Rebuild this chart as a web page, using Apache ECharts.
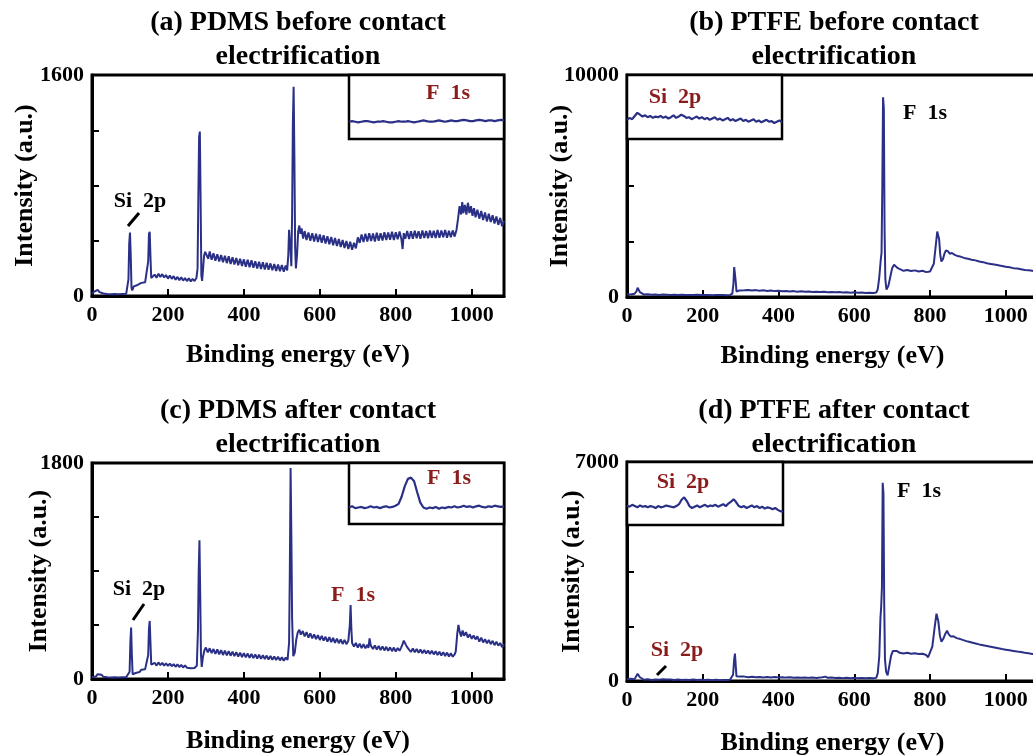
<!DOCTYPE html>
<html>
<head>
<meta charset="utf-8">
<title>XPS survey spectra</title>
<script src="https://cdn.jsdelivr.net/npm/echarts@6/dist/echarts.min.js"></script>
<style>
  html, body { margin: 0; padding: 0; background: #fff; }
  #chart { width: 1033px; height: 756px; }
</style>
</head>
<body>
<div id="chart"></div>
<script>
// ---- data (binding energy eV, intensity a.u.) ----
var energyTicks = [0, 200, 400, 600, 800, 1000];
var yMaxA = 1600, yMaxB = 10000, yMaxC = 1800, yMaxD = 7000;

var pdmsBefore = [
  [0,15],[5,30],[10,22],[15,45],[20,28],[25,40],[30,18],[35,25],[40,14],[45,22],[50,12],[55,20],[60,15],[65,22],[70,12],[75,18],[80,14],[85,20],[90,16],[94,22],
  [96,120],[98,380],[100,460],[102,300],[104,60],[106,40],[110,70],[115,58],[120,80],[125,72],[130,95],[135,85],[140,100],[145,108],
  [148,250],[150,450],[152,465],[154,280],[156,130],[160,120],[165,155],[170,132],[175,162],[180,138],[185,158],[190,134],[195,152],[200,126],[205,148],[210,124],[215,144],[220,118],[225,138],[230,115],[235,135],[240,112],[245,130],[250,108],[255,128],[260,106],[265,124],[270,108],[275,130],
  [278,200],[280,700],[282,1150],[284,1190],[286,700],[288,150],[290,110],[292,180],[295,290],[298,320],
  [302,318],[306,270],[310,322],[315,262],[320,310],[325,255],[330,302],[335,250],[340,296],[345,245],[350,292],[355,238],[360,288],[365,232],[370,280],[375,228],[380,275],[385,222],[390,270],[395,218],[400,265],[405,212],[410,262],[415,208],[420,258],[425,205],[430,252],[435,200],[440,248],[445,196],[450,244],[455,192],[460,240],[465,190],[470,236],[475,186],[480,232],[485,182],[490,228],[495,180],[500,224],[505,176],[510,220],[514,185],
  [517,300],[519,480],[521,490],[523,320],[525,215],[527,600],[529,1250],[531,1515],[533,1000],[535,350],[537,200],[540,300],[543,470],[546,510],
  [549,450],[552,490],[556,415],[560,470],[565,405],[570,460],[575,400],[580,455],[585,395],[590,450],[595,390],[600,445],[605,385],[610,440],[615,380],[620,432],[625,375],[630,428],[635,368],[640,420],[645,362],[650,412],[655,355],[660,405],[665,348],[670,398],[675,340],[680,392],[685,335],[690,385],[695,345],
  [700,425],[705,385],[710,445],[715,390],[720,450],[725,395],[730,455],[735,398],[740,452],[745,395],[750,458],[755,400],[760,455],[765,402],[770,462],[775,405],[780,460],[785,408],[790,465],[795,405],[800,462],[805,410],[810,468],[815,408],[818,340],[821,455],[825,415],[830,470],[835,412],[840,468],[845,415],[850,472],[855,418],[860,468],[865,415],[870,475],[875,420],[880,470],[885,418],[890,475],[895,422],[900,472],[905,420],[910,478],[915,422],[920,475],[925,425],[930,478],[935,422],[940,472],[945,425],[950,475],[955,430],[960,480],
  [964,560],[968,650],[972,590],[975,680],[978,600],[982,660],[986,590],[990,675],[994,600],[998,650],[1002,580],[1006,635],[1010,570],[1015,625],[1020,560],[1025,615],[1030,550],[1035,605],[1040,540],[1045,595],[1050,535],[1055,585],[1060,525],[1065,575],[1070,515],[1075,565],[1080,505],[1085,545]
];

var ptfeBefore = [
  [0,120],[5,140],[10,110],[15,130],[20,150],[25,250],[28,420],[31,400],[34,220],[38,140],[45,110],[55,120],[65,100],[75,115],[85,95],[95,110],[105,100],[115,90],[125,105],[135,95],[145,100],[155,85],[165,95],[175,90],[185,100],[195,85],[205,95],[215,90],[225,80],[235,95],[245,85],[255,90],[265,80],[272,95],
  [278,150],[281,600],[283,1350],[285,1380],[287,700],[289,250],[292,320],[296,290],[300,330],[310,300],[320,320],[330,290],[340,310],[350,280],[360,300],[370,275],[380,290],[390,265],[400,285],[410,260],[420,275],[430,250],[440,265],[450,240],[460,255],[470,235],[480,245],[490,225],[500,240],[510,220],[520,235],[530,215],[540,225],[550,210],[560,220],[570,200],[580,215],[590,195],[600,210],[610,190],[620,200],[630,185],[640,195],[650,180],[658,200],
  [662,350],[666,900],[670,1700],[672,2000],[674,5000],[676,9000],[678,8500],[680,3000],[682,800],[685,330],[690,500],[695,900],[700,1300],[705,1450],[710,1400],[715,1300],[720,1220],[730,1180],[740,1220],[750,1170],[760,1200],[770,1150],[780,1180],[790,1120],[800,1150],
  [805,1200],[810,1500],[815,2300],[819,2950],[821,3030],[824,2600],[827,1900],[830,1600],[834,1700],[838,1950],[842,2100],[845,2160],[848,2050],[852,1950],[858,1980],[865,1900],[872,1850],[880,1820],[890,1760],[900,1720],[910,1680],[920,1650],[930,1600],[940,1570],[950,1520],[960,1490],[970,1460],[980,1430],[990,1400],[1000,1360],[1010,1340],[1020,1300],[1030,1280],[1040,1250],[1050,1220],[1060,1200],[1070,1180],[1085,1150]
];

var pdmsAfter = [
  [0,15],[5,28],[10,20],[15,40],[20,30],[25,36],[30,18],[35,25],[40,14],[45,20],[50,12],[55,18],[60,14],[65,20],[70,12],[75,18],[80,14],[85,20],[90,15],[95,20],
  [99,60],[101,300],[103,428],[105,200],[107,40],[110,36],[115,50],[120,62],[125,58],[130,78],[135,70],[140,82],[145,78],
  [148,200],[150,420],[152,484],[154,300],[156,120],[160,106],[165,135],[170,112],[175,138],[180,116],[185,134],[190,112],[195,130],[200,110],[205,128],[210,106],[215,124],[220,102],[225,122],[230,100],[235,118],[240,96],[245,114],[250,94],[255,110],[260,90],[265,106],[270,92],[276,110],
  [279,400],[281,900],[283,1156],[285,700],[287,200],[289,100],[292,180],[296,240],
  [300,262],[305,222],[310,256],[315,216],[320,250],[325,210],[330,246],[335,206],[340,240],[345,200],[350,236],[355,197],[360,232],[365,194],[370,228],[375,190],[380,224],[385,186],[390,220],[395,183],[400,216],[405,180],[410,212],[415,177],[420,208],[425,174],[430,205],[435,171],[440,202],[445,168],[450,198],[455,166],[460,195],[465,163],[470,192],[475,160],[480,188],[485,158],[490,185],[495,155],[500,182],[505,152],[510,178],[515,160],
  [519,300],[521,900],[523,1758],[525,1200],[527,500],[530,190],[534,220],
  [538,330],[542,390],[546,410],[550,370],[555,400],[560,355],[565,390],[570,345],[575,380],[580,338],[585,372],[590,332],[595,365],[600,325],[605,360],[610,320],[615,352],[620,312],[625,348],[630,308],[635,342],[640,302],[645,336],[650,298],[655,330],[660,292],[665,326],[670,290],[675,318],
  [679,450],[681,616],[683,420],[685,300],[690,270],[695,300],[700,262],[705,295],[710,258],[715,290],[720,255],[725,285],[728,260],[731,339],[734,280],[740,250],[745,280],[750,245],[755,276],[760,242],[765,272],[770,238],[775,268],[780,235],[785,264],[790,232],[795,262],[800,228],[805,258],[810,235],[814,262],[818,290],[821,320],[825,330],[829,270],
  [835,245],[840,225],[845,255],[850,222],[855,250],[860,218],[865,246],[870,215],[875,242],[880,212],[885,238],[890,208],[895,235],[900,205],[905,232],[910,200],[915,228],[920,196],[925,224],[930,192],[935,220],[940,188],[945,215],[950,186],[955,205],
  [958,230],[962,380],[965,451],[968,400],[972,355],[976,405],[980,360],[985,390],[990,345],[995,372],[1000,335],[1005,362],[1010,330],[1015,355],[1020,312],[1025,345],[1030,305],[1035,332],[1040,298],[1045,325],[1050,290],[1055,318],[1060,282],[1065,310],[1070,278],[1075,300],[1080,265],[1085,290]
];

var ptfeAfter = [
  [0,60],[5,50],[10,70],[15,45],[20,60],[25,120],[28,230],[31,235],[34,120],[38,60],[45,40],[55,55],[65,35],[75,50],[85,40],[95,55],[100,60],[105,45],[115,50],[125,35],[135,45],[145,30],[155,40],[165,30],[175,45],[185,30],[195,40],[205,30],[215,40],[225,28],[235,38],[245,28],[255,35],[265,30],[272,40],
  [277,80],[280,200],[283,700],[285,877],[287,500],[289,150],[292,110],[296,140],[300,128],[310,140],[320,120],[330,135],[340,118],[350,130],[360,115],[370,128],[380,112],[390,125],[400,110],[410,122],[420,108],[430,118],[440,105],[450,115],[460,102],[470,112],[480,100],[490,110],[500,98],[510,108],[516,120],[520,182],[524,140],[530,100],[540,110],[550,95],[560,105],[570,92],[580,102],[590,90],[600,100],[610,88],[620,98],[630,85],[640,95],[650,85],[658,100],
  [662,250],[666,800],[669,2000],[671,2375],[673,3000],[675,6334],[677,6000],[679,2500],[681,700],[684,300],[688,180],[692,450],[697,800],[702,960],[706,1006],[712,960],[720,900],[730,880],[740,900],[750,870],[760,885],[770,860],[780,870],[790,830],[795,760],[800,800],
  [806,1100],[812,1700],[817,2150],[819,2183],[822,1900],[826,1450],[830,1252],[835,1350],[840,1500],[845,1605],[849,1500],[855,1420],[862,1430],[870,1370],[880,1340],[890,1300],[900,1260],[910,1230],[920,1200],[930,1170],[940,1145],[950,1120],[960,1095],[970,1070],[980,1045],[990,1020],[1000,1000],[1010,980],[1020,960],[1030,940],[1040,925],[1050,900],[1060,885],[1070,865],[1085,840]
];

// inset spectra (relative intensity, 0-100 of the inset box)
var insetF1sBefore = [27,28,27,26,27,28,28,27,26,27,27,28,27,26,26,27,28,27,27,28,27,26,27,28,29,28,27,27,28,29,28,27,28,29,28,28,29,30,29,28,28,29,30,29,28,29,29,28,29,30,29];
var insetF1sAfter = [27,29,26,27,28,26,27,29,27,28,26,28,29,27,28,30,33,45,62,74,76,70,52,35,27,25,27,26,28,25,27,26,28,27,29,27,28,30,28,29,27,29,30,28,27,29,28,30,29,28,29];
var insetSi2pBefore = [30,33,31,36,41,38,35,37,34,36,33,35,34,36,33,35,32,34,37,33,35,38,36,33,34,31,33,35,32,34,31,33,30,32,34,30,32,29,31,33,29,31,28,30,32,28,30,27,29,31,27,29,26,28,30,27,28,25,27,29,26];
var insetSi2pAfter = [31,29,32,30,28,31,29,30,28,30,29,27,30,28,29,31,30,29,28,30,33,40,44,38,30,27,29,31,28,30,32,29,31,30,32,29,31,33,30,34,37,41,36,30,28,30,27,29,31,28,30,27,29,26,28,27,25,27,24,22,21];

// ---- styling ----
var FONT = "'Liberation Serif', 'Times New Roman', serif";
var LINE = '#2b3087';
var RED = '#8b1c1c';

var mainBoxes = [
  { left: 92,  top: 75,  width: 412, height: 221, nameGapY: 54, nameGapX: 46 },
  { left: 627, top: 75,  width: 411, height: 222, nameGapY: 54, nameGapX: 46 },
  { left: 92,  top: 463, width: 412, height: 216, nameGapY: 40, nameGapX: 49 },
  { left: 627, top: 462, width: 411, height: 219, nameGapY: 42, nameGapX: 49 }
];
var insetBoxes = [
  { left: 349, top: 75,  width: 155, height: 64 },
  { left: 627, top: 75,  width: 155, height: 64 },
  { left: 349, top: 463, width: 155, height: 61 },
  { left: 627, top: 462, width: 156, height: 63 }
];
var yMaxes = [yMaxA, yMaxB, yMaxC, yMaxD];
var spectra = [pdmsBefore, ptfeBefore, pdmsAfter, ptfeAfter];
var insets = [insetF1sBefore, insetSi2pBefore, insetF1sAfter, insetSi2pAfter];
var titles = [
  { text: '(a) PDMS before contact\nelectrification', x: 298, y: 6 },
  { text: '(b) PTFE before contact\nelectrification', x: 834, y: 6 },
  { text: '(c) PDMS after contact\nelectrification', x: 298, y: 394 },
  { text: '(d) PTFE after contact\nelectrification', x: 834, y: 394 }
];

var grids = [], xAxes = [], yAxes = [], series = [];

mainBoxes.forEach(function (b, i) {
  grids.push({
    left: b.left, top: b.top, width: b.width, height: b.height,
    show: true, borderColor: '#000', borderWidth: 3, backgroundColor: '#fff',
    containLabel: false, outerBoundsMode: 'none'
  });
  xAxes.push({
    gridIndex: i, type: 'value', min: 0, max: 1085, interval: 200,
    name: 'Binding energy (eV)', nameLocation: 'middle', nameGap: b.nameGapX, nameMoveOverlap: false,
    nameTextStyle: { fontFamily: FONT, fontWeight: 'bold', fontSize: 26, color: '#000' },
    axisLine: { show: true, lineStyle: { color: '#000', width: 3 } },
    axisTick: { show: true, inside: true, length: 7, lineStyle: { color: '#000', width: 2 } },
    axisLabel: {
      margin: 8, fontFamily: FONT, fontWeight: 'bold', fontSize: 22, color: '#000',
      showMaxLabel: false,
      formatter: function (v) { return energyTicks.indexOf(v) >= 0 ? String(v) : ''; }
    },
    splitLine: { show: false }
  });
  var ymax = yMaxes[i];
  yAxes.push({
    gridIndex: i, type: 'value', min: 0, max: ymax, interval: ymax / 4,
    name: 'Intensity (a.u.)', nameLocation: 'middle', nameGap: b.nameGapY, nameMoveOverlap: false,
    nameTextStyle: { fontFamily: FONT, fontWeight: 'bold', fontSize: 26, color: '#000' },
    axisLine: { show: true, lineStyle: { color: '#000', width: 3 } },
    axisTick: { show: true, inside: true, length: 7, lineStyle: { color: '#000', width: 2 } },
    axisLabel: {
      margin: 8, fontFamily: FONT, fontWeight: 'bold', fontSize: 22, color: '#000',
      formatter: function (v) { return (v === 0 || v === ymax) ? String(v) : ''; }
    },
    splitLine: { show: false }
  });
  series.push({
    type: 'line', xAxisIndex: i, yAxisIndex: i, data: spectra[i],
    showSymbol: false, symbol: 'none', smooth: false,
    lineStyle: { color: LINE, width: 2 }, z: 3
  });
});

insetBoxes.forEach(function (b, k) {
  var i = mainBoxes.length + k;
  grids.push({
    left: b.left, top: b.top, width: b.width, height: b.height,
    show: true, borderColor: '#000', borderWidth: 2.5, backgroundColor: '#fff',
    containLabel: false, outerBoundsMode: 'none', z: 5
  });
  xAxes.push({
    gridIndex: i, type: 'category', boundaryGap: false, show: false,
    data: insets[k].map(function (_, j) { return j; })
  });
  yAxes.push({ gridIndex: i, type: 'value', min: 0, max: 100, show: false });
  series.push({
    type: 'line', xAxisIndex: i, yAxisIndex: i, data: insets[k],
    showSymbol: false, symbol: 'none',
    lineStyle: { color: LINE, width: 2.2 }, z: 6
  });
});

function label(text, x, y, color) {
  return {
    type: 'text', x: x, y: y, z: 20,
    style: {
      text: text, fill: color, align: 'center', verticalAlign: 'middle',
      fontFamily: FONT, fontWeight: 'bold', fontSize: 22
    }
  };
}
function tick(x1, y1, x2, y2) {
  return {
    type: 'line', z: 20,
    shape: { x1: x1, y1: y1, x2: x2, y2: y2 },
    style: { stroke: '#000', lineWidth: 3 }
  };
}

var graphics = [
  label('Si  2p', 140, 201, '#000'), tick(128, 226, 139, 213),
  label('F  1s', 448, 93, RED),
  label('Si  2p', 675, 97, RED),
  label('F  1s', 925, 113, '#000'),
  label('Si  2p', 139, 589, '#000'), tick(133, 620, 144, 604),
  label('F  1s', 353, 595, RED),
  label('F  1s', 449, 478, RED),
  label('Si  2p', 683, 482, RED),
  label('F  1s', 919, 491, '#000'),
  label('Si  2p', 677, 650, RED), tick(657, 675, 666, 666)
];

var chart = echarts.init(document.getElementById('chart'), null, { renderer: 'canvas' });
chart.setOption({
  animation: false,
  backgroundColor: '#fff',
  title: titles.map(function (t) {
    return {
      text: t.text, left: t.x, top: t.y, textAlign: 'center', padding: 0,
      textStyle: { fontFamily: FONT, fontWeight: 'bold', fontSize: 28, lineHeight: 34, color: '#000' }
    };
  }),
  grid: grids,
  xAxis: xAxes,
  yAxis: yAxes,
  series: series,
  graphic: graphics
});
</script>
</body>
</html>
